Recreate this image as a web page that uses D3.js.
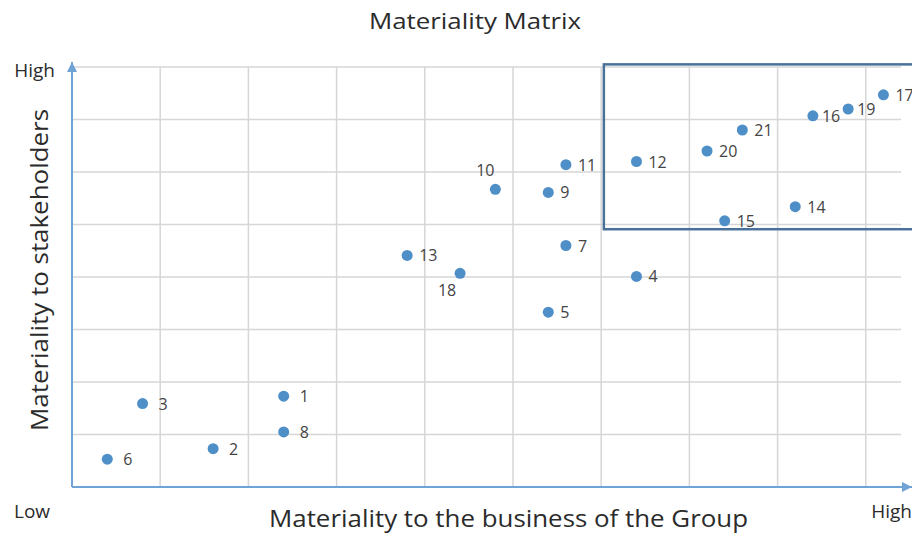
<!DOCTYPE html>
<html>
<head>
<meta charset="utf-8">
<script src="https://cdn.jsdelivr.net/npm/d3@7"></script>
<style>
  html, body { margin: 0; padding: 0; background: #fff; }
  svg { display: block; font-family: "Open Sans", "Noto Sans", sans-serif; }
</style>
</head>
<body>
<svg id="chart" width="912" height="534"></svg>
<script>
// ---- data ----
const ids       = ["1","2","3","4","5","6","7","8","9","10","11","12","13","14","15","16","17","18","19","20","21"];
const business  = [2.4, 1.6, 0.8, 6.4, 5.4, 0.4, 5.6, 2.4, 5.4, 4.8, 5.6, 6.4, 3.8, 8.2, 7.4, 8.4, 9.2, 4.4, 8.8, 7.2, 7.6];
const stakehold = [1.73,0.73,1.59,4.01,3.33,0.53,4.6, 1.05,5.61,5.67,6.14,6.2, 4.41,5.34,5.07,7.07,7.47,4.07,7.2, 6.4, 6.8];
const labelSide = ["r","r","r","r","r","r","r","r","r","tl","r","r","r","r","r","rn","r","bl","rn","r","r"];
const gridX = [1,2,3,4,5,6,7,8,9];
const gridY = [1,2,3,4,5,6,7,8];
const highlightBox = {x0: 6.03, y0: 4.91, x1: 11, y1: 8.05};
const axisText = {title: "Materiality Matrix", xTitle: "Materiality to the business of the Group",
                  yTitle: "Materiality to stakeholders", low: "Low", high: "High"};

// ---- layout ----
const svg = d3.select("#chart");
const x = d3.scaleLinear().domain([0, 10]).range([72, 954]);
const y = d3.scaleLinear().domain([0, 8]).range([487, 67]);
const gridRight = 901;

const gridColor = "#d6d6d6";
const axisColor = "#6fa3d6";
const pointColor = "#4f8fc7";
const textColor = "#2b2b2b";

// grid
svg.append("g").selectAll("line.v").data(gridX).join("line")
  .attr("x1", d => x(d)).attr("x2", d => x(d))
  .attr("y1", y(8)).attr("y2", y(0))
  .attr("stroke", gridColor).attr("stroke-width", 1.5);
svg.append("g").selectAll("line.h").data(gridY).join("line")
  .attr("x1", x(0)).attr("x2", gridRight)
  .attr("y1", d => y(d)).attr("y2", d => y(d))
  .attr("stroke", gridColor).attr("stroke-width", 1.5);

// axes with arrows
const defs = svg.append("defs");
defs.append("marker").attr("id", "arrow").attr("viewBox", "0 0 10 10")
  .attr("refX", 10).attr("refY", 5).attr("markerWidth", 10).attr("markerHeight", 10)
  .attr("markerUnits", "userSpaceOnUse").attr("orient", "auto")
  .append("path").attr("d", "M0,0 L10,5 L0,10 Z").attr("fill", axisColor);

svg.append("line").attr("x1", x(0)).attr("x2", 912).attr("y1", y(0)).attr("y2", y(0))
  .attr("stroke", axisColor).attr("stroke-width", 2).attr("marker-end", "url(#arrow)");
svg.append("line").attr("x1", x(0)).attr("x2", x(0)).attr("y1", y(0)).attr("y2", 62)
  .attr("stroke", axisColor).attr("stroke-width", 2).attr("marker-end", "url(#arrow)");

// highlight box
svg.append("rect")
  .attr("x", x(highlightBox.x0)).attr("y", y(highlightBox.y1))
  .attr("width", x(highlightBox.x1) - x(highlightBox.x0))
  .attr("height", y(highlightBox.y0) - y(highlightBox.y1))
  .attr("fill", "none").attr("stroke", "#4a7199").attr("stroke-width", 2.5);

// points
const pts = ids.map((id, i) => ({id, bx: business[i], sy: stakehold[i], side: labelSide[i]}));
svg.append("g").selectAll("circle").data(pts).join("circle")
  .attr("cx", d => x(d.bx)).attr("cy", d => y(d.sy)).attr("r", 5.5)
  .attr("fill", pointColor);

svg.append("g").selectAll("text").data(pts).join("text")
  .attr("x", d => {
    const cx = x(d.bx);
    if (d.side === "tl") return cx - 10;
    if (d.side === "bl") return cx - 13;
    if (d.side === "rn") return cx + 9;
    return cx + (d.bx < 3 ? 16 : 12);
  })
  .attr("y", d => {
    const cy = y(d.sy);
    if (d.side === "tl") return cy - 13;
    if (d.side === "bl") return cy + 23;
    return cy + 6;
  })
  .attr("text-anchor", d => (d.side === "tl" || d.side === "bl") ? "middle" : "start")
  .attr("font-size", 16).attr("fill", "#444")
  .text(d => d.id);

// titles
svg.append("text").attr("x", 475).attr("y", 29).attr("text-anchor", "middle")
  .attr("font-size", 22).attr("fill", textColor)
  .attr("textLength", 212).attr("lengthAdjust", "spacingAndGlyphs").text(axisText.title);
svg.append("text").attr("x", 508.5).attr("y", 527).attr("text-anchor", "middle")
  .attr("font-size", 23).attr("fill", textColor)
  .attr("textLength", 479).attr("lengthAdjust", "spacingAndGlyphs").text(axisText.xTitle);
svg.append("text").attr("transform", "translate(48,270) rotate(-90)").attr("text-anchor", "middle")
  .attr("font-size", 23).attr("fill", textColor)
  .attr("textLength", 322).attr("lengthAdjust", "spacingAndGlyphs").text(axisText.yTitle);

svg.append("text").attr("x", 55).attr("y", 77).attr("text-anchor", "end")
  .attr("font-size", 19).attr("fill", textColor).text(axisText.high);
svg.append("text").attr("x", 14).attr("y", 518)
  .attr("font-size", 19).attr("fill", textColor).text(axisText.low);
svg.append("text").attr("x", 912).attr("y", 518).attr("text-anchor", "end")
  .attr("font-size", 19).attr("fill", textColor).text(axisText.high);
</script>
</body>
</html>
